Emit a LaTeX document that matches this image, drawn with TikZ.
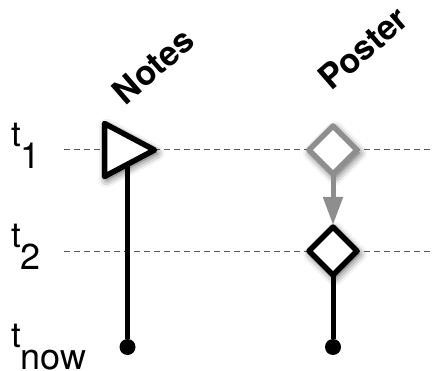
\documentclass[tikz,border=0pt]{standalone}
\usepackage{fontspec}
\setmainfont{TeX Gyre Heros}
\usetikzlibrary{shapes.geometric,arrows.meta,shadows.blur}

\definecolor{ghost}{HTML}{8E8E8E}

\begin{document}
\begin{tikzpicture}[x=1pt,y=-1pt,
  timeline/.style={draw=black!65, line width=1pt, dash pattern=on 6pt off 4pt},
  eventshape/.style={draw, line width=5.5pt, line join=round, fill=white,
    inner sep=0pt, outer sep=0pt,
    blur shadow={shadow xshift=2pt, shadow yshift=-3pt,
      shadow blur radius=8pt, shadow opacity=75}},
  version/.style={eventshape, diamond, aspect=1, minimum width=48pt, minimum height=48pt},
  origin/.style={eventshape, isosceles triangle, isosceles triangle stretches,
    shape border rotate=0, minimum width=53pt, minimum height=50pt},
  nowdot/.style={circle, fill=black, inner sep=0pt, minimum size=16pt},
  stem/.style={line width=5pt},
  tlabel/.style={anchor=base west, inner sep=0pt, font=\fontsize{35}{35}\selectfont},
  header/.style={font=\bfseries\fontsize{34}{34}\selectfont, rotate=41, inner sep=0pt}
]
\useasboundingbox (0,0) rectangle (433,371);

\newcommand{\tsub}[1]{\raisebox{-22pt}{\fontsize{36}{36}\selectfont #1}}

% time axes
\coordinate (l1) at (64,150);  \coordinate (r1) at (433,150);
\coordinate (l2) at (64,251);  \coordinate (r2) at (433,251);
\draw[timeline] (l1) -- (r1);
\draw[timeline] (l2) -- (r2);

% time labels
\node[tlabel] (lt1) at (11,147) {t\tsub{1}};
\node[tlabel] (lt2) at (11,247) {t\tsub{2}};
\node[tlabel] (ltn) at (11,347) {t\tsub{now}};

% column headers
\node[header] (hnotes) at (153,66) {Notes};
\node[header] (hposter) at (363,48) {Poster};

% current state markers
\node[nowdot] (nowA) at (127.5,347) {};
\node[nowdot] (nowB) at (333,347) {};

% Notes: created at t1, unchanged since (stem runs up under the triangle)
\coordinate (notesT1) at (127.5,150);
\draw[stem] (nowA) -- (notesT1);
\node[origin, anchor=lower side] (tri) at (104.5,150) {};

% Poster: revised between t1 and t2
\node[version, draw=ghost] (p1) at (333,150) {};
\node[version] (p2) at (333,251) {};
\draw[stem, draw=ghost, -{Triangle[length=28pt, width=19pt]}, shorten >=2pt] (p1) -- (p2);
\draw[stem] (p2) -- (nowB);
\end{tikzpicture}
\end{document}
